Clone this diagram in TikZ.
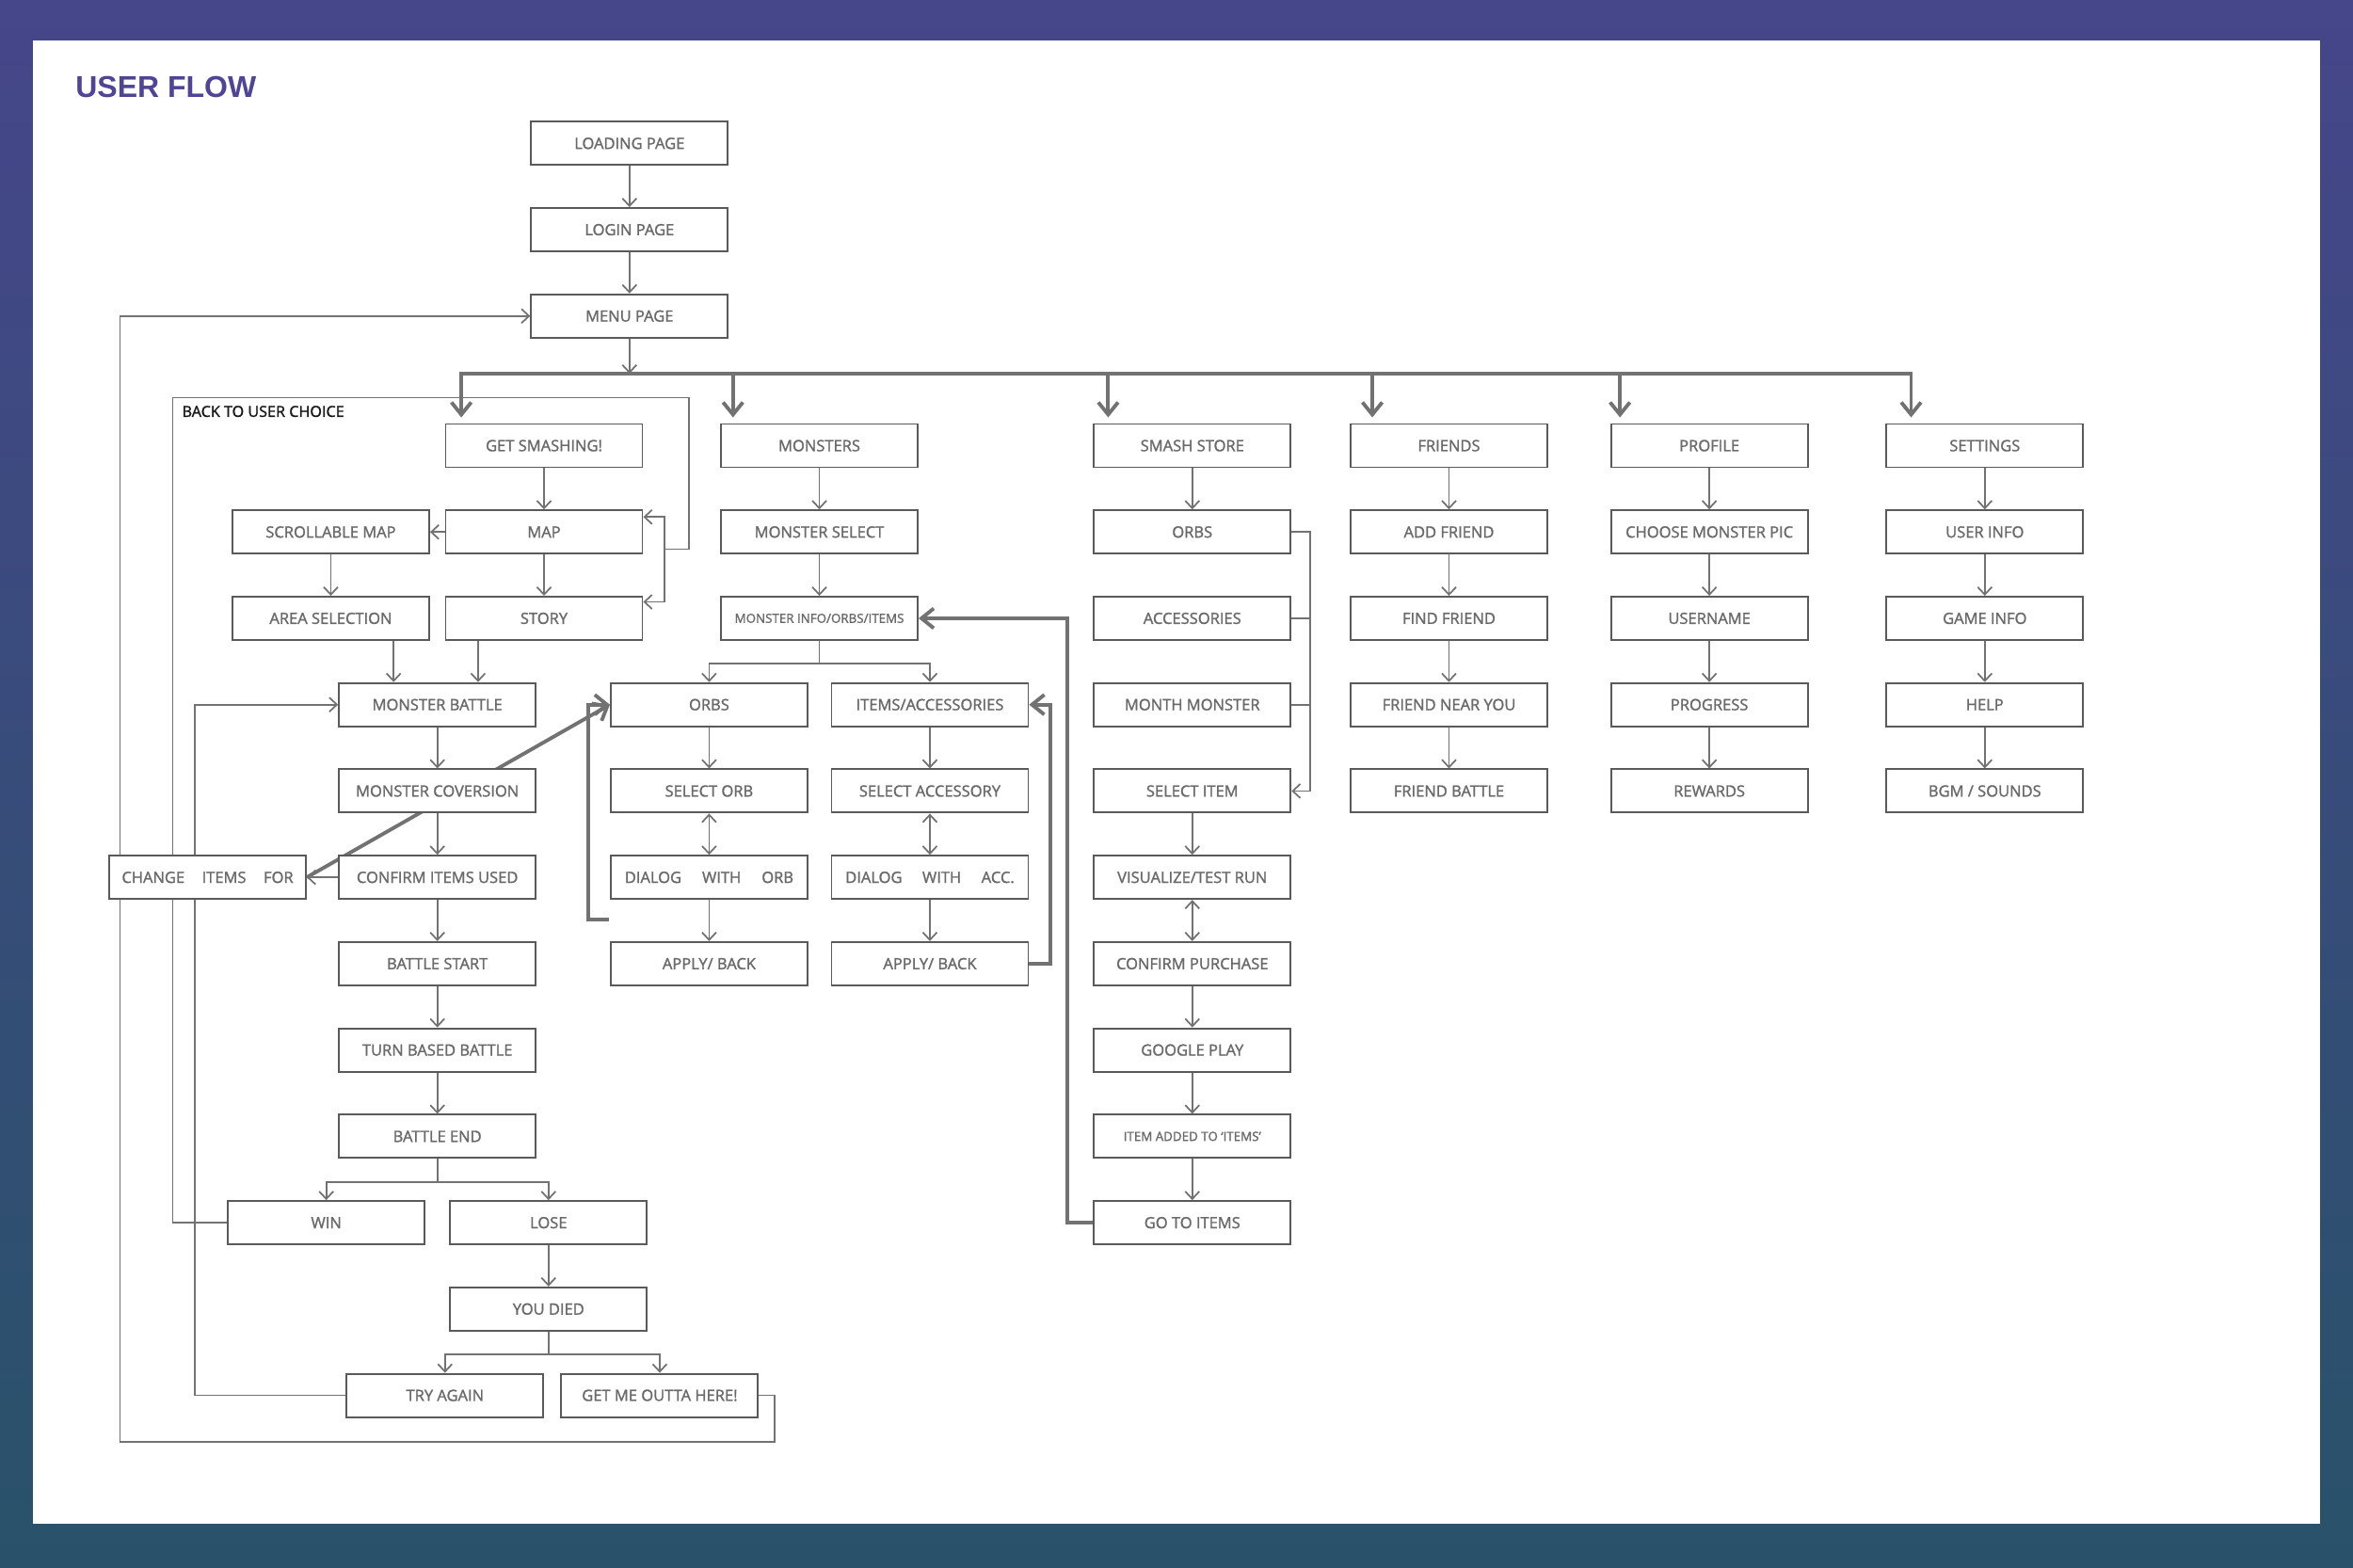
\documentclass[tikz,border=0pt]{standalone}
\usepackage{fontspec}
\setmainfont{Open Sans}
\newfontfamily\boxfont{Open Sans}[FakeBold=1.5]
\newfontfamily\ttlfont{Liberation Sans}
\usepackage{tikz}
\usetikzlibrary{positioning,arrows.meta,calc,backgrounds}
\pgfdeclarelayer{paper}
\pgfsetlayers{paper,background,main}
\definecolor{cTop}  {HTML}{46468A}
\definecolor{cBot}  {HTML}{29526A}
\definecolor{cTitle}{HTML}{4F4597}
\definecolor{cText} {HTML}{6A6A6A}
\definecolor{cBox}  {HTML}{5A5A5A}
\definecolor{cLine} {HTML}{727272}
\tikzset{
  >={Straight Barb[length=0.8mm,width=1.5mm]},
  thk/.tip={Straight Barb[length=1.3mm,width=2.1mm]},
  fbox/.style={draw=cBox,fill=white,line width=0.55pt,inner sep=0pt,
               minimum width=20.9mm,minimum height=4.6mm,text=cText,
               font=\boxfont\fontsize{4.7}{5}\selectfont},
  fsmall/.style={fbox,font=\boxfont\fontsize{3.8}{4}\selectfont},
  note/.style={inner sep=0pt,text=black!90,font=\boxfont\fontsize{4.6}{5}\selectfont},
  sln/.style={cLine,line width=0.5pt},
  sar/.style={->,sln},
  dar/.style={<->,sln},
  tln/.style={cLine,line width=1.1pt},
  tar/.style={-thk,tln},
}

\begin{document}
\begin{tikzpicture}[x=1mm,y=1mm,node distance=4.38mm and 4mm]
  \begin{pgfonlayer}{paper}
    \shade[top color=cTop,bottom color=cBot] (0,0) rectangle (250,-166.6);
    \fill[white] (3.5,-4.3) rectangle (246.5,-161.9);
  \end{pgfonlayer}
  \useasboundingbox (0,0) rectangle (250,-166.6);

  \node[anchor=base west,inner sep=0pt,text=cTitle,
        font=\ttlfont\bfseries\fontsize{9.1}{10}\selectfont] (ttl) at (7.97,-10.33) {USER FLOW};

  % start
  \node[fbox] (lp) at (66.88,-15.23) {LOADING PAGE};
  \node[fbox,below=of lp] (lg) {LOGIN PAGE};
  \node[fbox,below=of lg] (mp) {MENU PAGE};

  % menu choices
  \node[fbox] (gs) at (57.80,-47.35) {GET SMASHING!};
  \node[fbox,right=8.16mm of gs] (mon) {MONSTERS};
  \node[fbox,right=18.53mm of mon] (store) {SMASH STORE};
  \node[fbox,right=6.18mm of store] (fr) {FRIENDS};
  \node[fbox,right=6.57mm of fr] (pro) {PROFILE};
  \node[fbox,right=8.17mm of pro] (sett) {SETTINGS};

  % get smashing
  \node[fbox,below=of gs] (map) {MAP};
  \node[fbox,below=of map] (story) {STORY};
  \node[fbox,left=1.56mm of map] (smap) {SCROLLABLE MAP};
  \node[fbox,below=of smap] (area) {AREA SELECTION};
  \node[fbox,below=of area,xshift=11.32mm] (mb) {MONSTER BATTLE};
  \node[fbox,below=of mb] (mconv) {MONSTER COVERSION};
  \node[fbox,below=of mconv] (conf) {CONFIRM ITEMS USED};
  \node[fbox,left=3.32mm of conf] (chg) {CHANGE\hspace{1.85mm}ITEMS\hspace{1.85mm}FOR};
  \node[fbox,below=of conf] (bst) {BATTLE START};
  \node[fbox,below=of bst] (tbb) {TURN BASED BATTLE};
  \node[fbox,below=of tbb] (bend) {BATTLE END};
  \node[fbox,below=of bend,xshift=-11.8mm] (win) {WIN};
  \node[fbox,right=2.52mm of win] (lose) {LOSE};
  \node[fbox,below=of lose] (died) {YOU DIED};
  \node[fbox,below=of died,xshift=-11mm] (tryag) {TRY AGAIN};
  \node[fbox,right=1.72mm of tryag] (leave) {GET ME OUTTA HERE!};

  % monsters
  \node[fbox,below=of mon] (msel) {MONSTER SELECT};
  \node[fsmall,below=of msel] (minfo) {MONSTER INFO/ORBS/ITEMS};
  \node[fbox,below=of minfo,xshift=-11.71mm] (orbs) {ORBS};
  \node[fbox,right=2.36mm of orbs] (itac) {ITEMS/ACCESSORIES};
  \node[fbox,below=of orbs] (sorb) {SELECT ORB};
  \node[fbox,below=of sorb] (dorb) {DIALOG\hspace{2.2mm}WITH\hspace{2.2mm}ORB};
  \node[fbox,below=of dorb] (aorb) {APPLY/ BACK};
  \node[fbox,below=of itac] (sacc) {SELECT ACCESSORY};
  \node[fbox,below=of sacc] (dacc) {DIALOG\hspace{2.15mm}WITH\hspace{2.15mm}ACC.};
  \node[fbox,below=of dacc] (aacc) {APPLY/ BACK};

  % smash store
  \node[fbox,below=of store] (storb) {ORBS};
  \node[fbox,below=of storb] (stacc) {ACCESSORIES};
  \node[fbox,below=of stacc] (stmm) {MONTH MONSTER};
  \node[fbox,below=of stmm] (stsel) {SELECT ITEM};
  \node[fbox,below=of stsel] (stvis) {VISUALIZE/TEST RUN};
  \node[fbox,below=of stvis] (stcp) {CONFIRM PURCHASE};
  \node[fbox,below=of stcp] (stgp) {GOOGLE PLAY};
  \node[fsmall,below=of stgp] (stadd) {ITEM ADDED TO ‘ITEMS’};
  \node[fbox,below=of stadd] (stgo) {GO TO ITEMS};

  % friends, profile, settings
  \node[fbox,below=of fr] (frA) {ADD FRIEND};
  \node[fbox,below=of frA] (frF) {FIND FRIEND};
  \node[fbox,below=of frF] (frN) {FRIEND NEAR YOU};
  \node[fbox,below=of frN] (frB) {FRIEND BATTLE};
  \node[fbox,below=of pro] (proP) {CHOOSE MONSTER PIC};
  \node[fbox,below=of proP] (proU) {USERNAME};
  \node[fbox,below=of proU] (proG) {PROGRESS};
  \node[fbox,below=of proG] (proR) {REWARDS};
  \node[fbox,below=of sett] (seU) {USER INFO};
  \node[fbox,below=of seU] (seG) {GAME INFO};
  \node[fbox,below=of seG] (seH) {HELP};
  \node[fbox,below=of seH] (seB) {BGM / SOUNDS};

  \begin{scope}[on background layer]
    \draw[sar] (lp)--(lg);
    \draw[sar] (lg)--(mp);
    \coordinate (bus) at (0,-39.70);
    \draw[sar] (mp)--(mp |- bus);

    % menu bus
    \coordinate (dgs)    at ($(gs.north west)+(1.76,0.6)$);
    \coordinate (dmon)   at ($(mon.north west)+(1.37,0.6)$);
    \coordinate (dstore) at ($(store.north west)+(1.61,0.6)$);
    \coordinate (dfr)    at ($(fr.north west)+(2.4,0.6)$);
    \coordinate (dpro)   at ($(pro.north west)+(1.05,0.6)$);
    \coordinate (dsett)  at ($(sett.north west)+(2.72,0.6)$);
    \draw[tln,thk-thk] (dgs) |- (dsett |- bus) -- (dsett);
    \draw[tar] (dmon |- bus)--(dmon);
    \draw[tar] (dstore |- bus)--(dstore);
    \draw[tar] (dfr |- bus)--(dfr);
    \draw[tar] (dpro |- bus)--(dpro);

    % get smashing
    \draw[sar] (gs)--(map);
    \draw[sar] (map)--(story);
    \draw[sar] (map)--(smap);
    \draw[sar] (smap)--(area);
    \coordinate (ma) at ($(mb.north west)+(5.9,0)$);
    \coordinate (mc) at ($(mb.north east)+(-6.22,0)$);
    \draw[sar] (ma |- area.south)--(ma);
    \draw[sar] (mc |- story.south)--(mc);
    \draw[sar] (mb)--(mconv);
    \draw[sar] (mconv)--(conf);
    \draw[sar] (conf)--(bst);
    \draw[sar] (bst)--(tbb);
    \draw[sar] (tbb)--(bend);
    \draw[sar] (conf)--(chg);
    \draw[tar] (chg.east)--(orbs.west);
    \draw[sar] (bend.south) -- ++(0,-2.45) -| (win);
    \draw[sar] (bend.south) -- ++(0,-2.45) -| (lose);
    \draw[sar] (lose)--(died);
    \draw[sar] (died.south) -- ++(0,-2.45) -| (tryag);
    \draw[sar] (died.south) -- ++(0,-2.45) -| (leave);

    % back to user choice
    \coordinate (bkl) at (18.34,-42.25);
    \coordinate (bkr) at (73.18,-58.35);
    \coordinate (bkx) at (70.63,-58.35);
    \draw[sln] (win.west) -| (bkl) -| (bkr) -- (bkx);
    \draw[sar] (bkx) |- ($(map.north east)+(0,-0.8)$);
    \draw[sar] (bkx) |- ($(story.north east)+(0,-0.65)$);

    % loops back
    \coordinate (tx) at (20.73,0);
    \draw[sar] (tryag.west) -| (tx |- mb.west) -- (mb.west);
    \coordinate (ox) at (82.27,-153.22);
    \coordinate (ol) at (12.76,-153.22);
    \draw[sar] (leave.east) -| (ox) -- (ol) |- (mp.west);

    % monsters
    \draw[sar] (mon)--(msel);
    \draw[sar] (msel)--(minfo);
    \draw[sar] (minfo.south) -- ++(0,-2.4) -| (orbs);
    \draw[sar] (minfo.south) -- ++(0,-2.4) -| (itac);
    \draw[sar] (orbs)--(sorb);
    \draw[dar] (sorb)--(dorb);
    \draw[sar] (dorb)--(aorb);
    \draw[sar] (itac)--(sacc);
    \draw[dar] (sacc)--(dacc);
    \draw[sar] (dacc)--(aacc);
    \coordinate (oret) at (64.73,-97.74);
    \draw[tar] (oret) -- ++(-2.23,0) |- (orbs.west);
    \draw[tar] (aacc.east) -- ++(2.23,0) |- (itac.east);
    \draw[tar] (stgo.west) -- ++(-2.71,0) |- (minfo.east);

    % smash store
    \draw[sar] (store)--(storb);
    \coordinate (sx) at (139.19,0);
    \draw[sar] (storb.east) -- (storb.east -| sx) |- (stsel.east);
    \draw[sln] (stacc.east) -- (stacc.east -| sx);
    \draw[sln] (stmm.east) -- (stmm.east -| sx);
    \draw[sar] (stsel)--(stvis);
    \draw[dar] (stvis)--(stcp);
    \draw[sar] (stcp)--(stgp);
    \draw[sar] (stgp)--(stadd);
    \draw[sar] (stadd)--(stgo);

    % friends, profile, settings
    \draw[sar] (fr)--(frA);
    \draw[sar] (frA)--(frF);
    \draw[sar] (frF)--(frN);
    \draw[sar] (frN)--(frB);
    \draw[sar] (pro)--(proP);
    \draw[sar] (proP)--(proU);
    \draw[sar] (proU)--(proG);
    \draw[sar] (proG)--(proR);
    \draw[sar] (sett)--(seU);
    \draw[sar] (seU)--(seG);
    \draw[sar] (seG)--(seH);
    \draw[sar] (seH)--(seB);
  \end{scope}

  \node[note,anchor=north west] (bktx) at ($(bkl)+(0.95,-0.8)$) {BACK TO USER CHOICE};
\end{tikzpicture}
\end{document}
